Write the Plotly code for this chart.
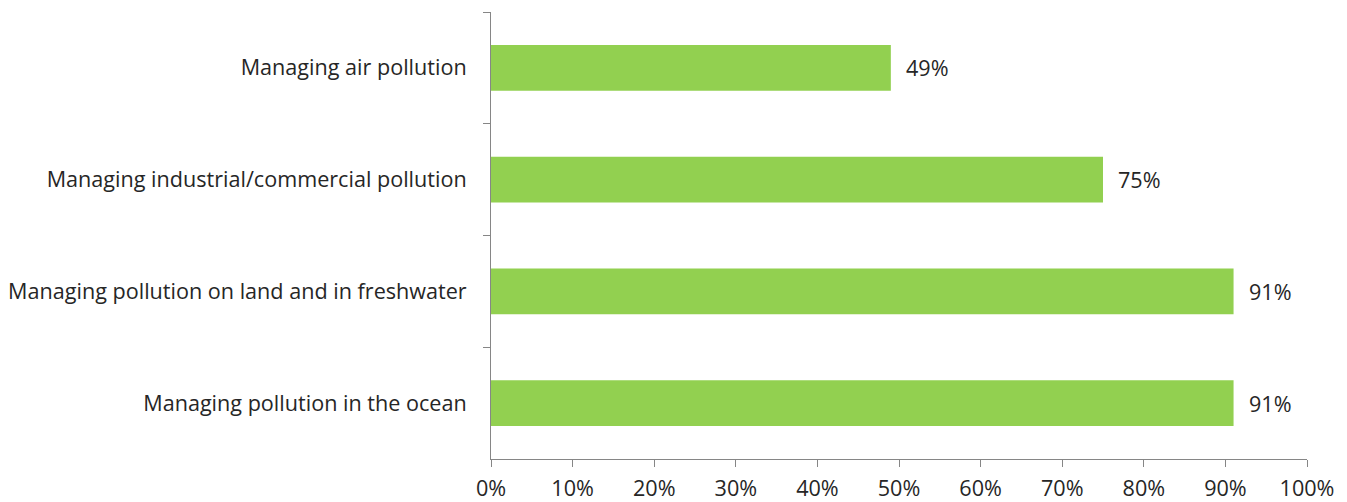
import plotly.graph_objects as go

categories = [
    "Managing air pollution",
    "Managing industrial/commercial pollution",
    "Managing pollution on land and in freshwater",
    "Managing pollution in the ocean",
]
values = [49, 75, 91, 91]
value_labels = ["49%", "75%", "91%", "91%"]
x_ticks = [0, 10, 20, 30, 40, 50, 60, 70, 80, 90, 100]
x_tick_labels = ["0%", "10%", "20%", "30%", "40%", "50%", "60%", "70%", "80%", "90%", "100%"]

FONT = "Open Sans"
FS = 21.6
TXT = "#262626"
AX = "#868686"

fig = go.Figure()
fig.add_trace(go.Bar(
    y=categories, x=values, orientation="h",
    marker=dict(color="#92D050", line=dict(width=0)),
    width=0.41, hoverinfo="skip",
))
for c, v, t in zip(categories, values, value_labels):
    fig.add_annotation(x=v, y=c, text=t, showarrow=False, xanchor="left",
                       xshift=13, font=dict(family=FONT, size=FS, color=TXT))

fig.update_layout(
    width=1347, height=502,
    margin=dict(l=491, r=40, t=12, b=43),
    plot_bgcolor="white", paper_bgcolor="white",
    showlegend=False, bargap=0.59,
    font=dict(family=FONT, size=FS, color=TXT),
)
fig.update_xaxes(
    range=[0, 100], tickvals=x_ticks, ticktext=x_tick_labels,
    showgrid=False, zeroline=False, showline=True, linecolor=AX, linewidth=1,
    ticks="outside", ticklen=7, tickcolor=AX, tickwidth=1, automargin=False,
    ticklabelstandoff=3,
    tickfont=dict(family=FONT, size=FS, color=TXT),
)
fig.update_yaxes(
    categoryorder="array", categoryarray=categories, autorange="reversed",
    showgrid=False, zeroline=False, showline=True, linecolor=AX, linewidth=1,
    ticks="outside", ticklen=7, tickcolor=AX, tickwidth=1, tickson="boundaries",
    ticklabelstandoff=19, automargin=False,
    tickfont=dict(family=FONT, size=FS, color=TXT),
)
fig.write_html(
    "out.html",
    config={"displayModeBar": False, "staticPlot": True},
    post_script="document.body.style.margin='0';document.body.style.overflow='hidden';",
)
